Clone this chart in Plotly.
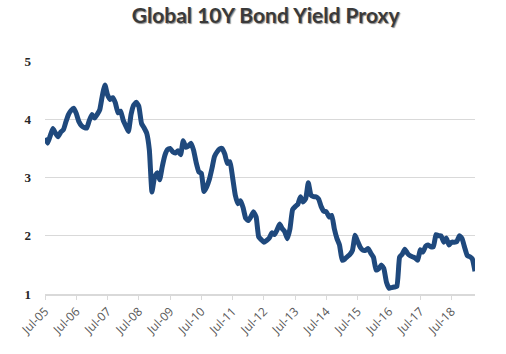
import plotly.graph_objects as go
import pandas as pd

start_month = "2005-07-01"
yields = [
    3.68, 3.59, 3.72, 3.84, 3.76, 3.70, 3.78, 3.82, 3.95, 4.08,
    4.15, 4.19, 4.10, 3.96, 3.89, 3.86, 3.85, 3.98, 4.08, 4.02,
    4.08, 4.16, 4.40, 4.59, 4.42, 4.34, 4.37, 4.28, 4.11, 4.14,
    3.98, 3.88, 3.79, 4.08, 4.24, 4.29, 4.22, 3.93, 3.85, 3.76,
    3.47, 2.75, 3.01, 3.08, 2.96, 3.19, 3.38, 3.48, 3.50, 3.44,
    3.42, 3.46, 3.39, 3.63, 3.52, 3.54, 3.59, 3.47, 3.26, 3.10,
    3.07, 2.76, 2.84, 2.96, 3.15, 3.36, 3.44, 3.49, 3.50, 3.40,
    3.24, 3.27, 3.00, 2.70, 2.55, 2.60, 2.48, 2.30, 2.26, 2.33,
    2.41, 2.32, 1.98, 1.93, 1.89, 1.92, 1.96, 2.05, 2.02, 2.10,
    2.20, 2.12, 2.07, 1.95, 2.12, 2.45, 2.50, 2.54, 2.67, 2.58,
    2.64, 2.91, 2.70, 2.67, 2.67, 2.63, 2.50, 2.42, 2.41, 2.32,
    2.35, 2.12, 1.95, 1.84, 1.58, 1.60, 1.64, 1.68, 1.75, 2.01,
    1.90, 1.80, 1.75, 1.75, 1.78, 1.70, 1.63, 1.41, 1.43, 1.50,
    1.44, 1.20, 1.10, 1.11, 1.12, 1.13, 1.63, 1.68, 1.77, 1.70,
    1.66, 1.64, 1.62, 1.58, 1.76, 1.72, 1.82, 1.84, 1.81, 1.81,
    2.02, 2.00, 2.00, 1.89, 1.96, 1.84, 1.89, 1.89, 1.90, 2.00,
    1.95, 1.80, 1.66, 1.64, 1.60, 1.39,
]
dates = pd.date_range(start_month, periods=len(yields), freq="MS")
y_ticks = [1, 2, 3, 4, 5]

fig = go.Figure()
fig.add_trace(go.Scatter(
    x=dates, y=yields, mode="lines",
    line=dict(color="#1f497d", width=5, shape="spline", smoothing=0.4),
    hoverinfo="skip", showlegend=False,
))

fig.update_layout(
    width=506, height=354,
    margin=dict(l=45, r=31, t=61, b=60),
    paper_bgcolor="white", plot_bgcolor="white",
    title=dict(
        text="<b>Global 10Y Bond Yield Proxy</b>",
        x=0.525, xanchor="center", y=0.955, yanchor="middle",
        font=dict(family="Lato, Open Sans, sans-serif", size=21, color="#3a3a3a",
                  shadow="1px 1px 1px #8a8a8a"),
    ),
)
fig.update_xaxes(
    type="date",
    range=["2005-07-01", "2019-04-01"],
    tick0="2005-07-01", dtick="M12", tickformat="%b-%y",
    tickangle=-45,
    ticks="outside", ticklen=4, tickcolor="#d9d9d9",
    showline=True, linecolor="#d9d9d9", linewidth=1.5,
    showgrid=False, zeroline=False,
    tickfont=dict(family="Open Sans, sans-serif", size=12, color="#595959"),
)
fig.update_yaxes(
    range=[1, 5], tickvals=y_ticks,
    showgrid=True, gridcolor="#d9d9d9", gridwidth=1,
    zeroline=False, showline=False, ticks="",
    ticklabelstandoff=13,
    tickfont=dict(family="Liberation Serif, serif", size=13, color="#262626",
                  weight="bold"),
)

fig.write_html("out.html")
